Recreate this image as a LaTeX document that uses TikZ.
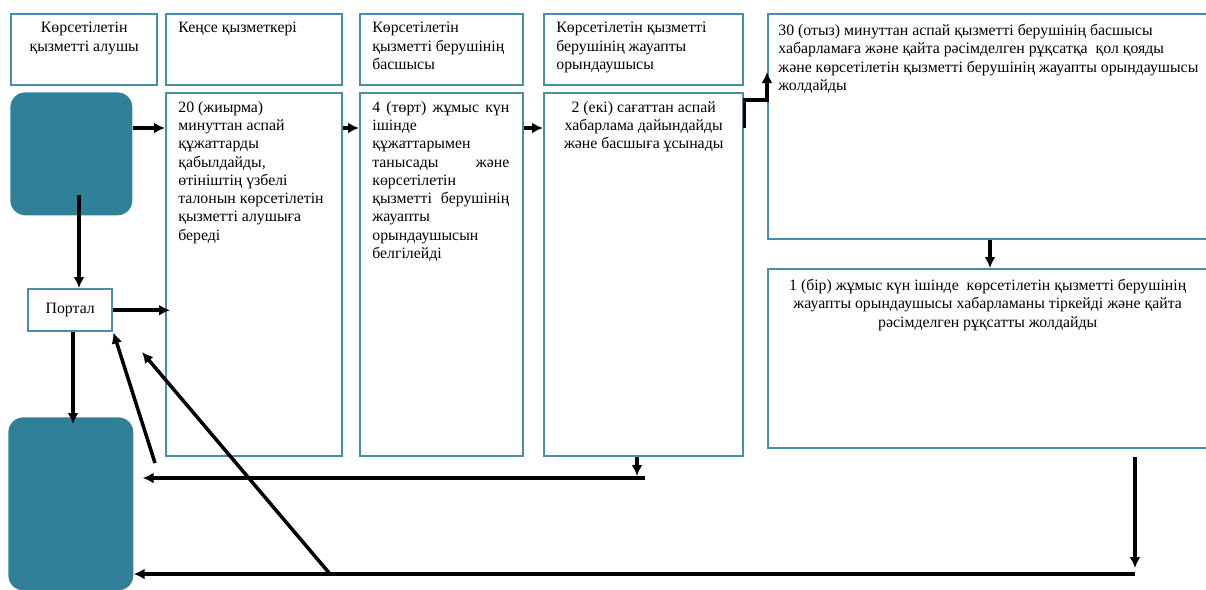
\documentclass[tikz,border=0pt]{standalone}
\usepackage{fontspec}
\setmainfont{Liberation Serif}
\usetikzlibrary{arrows.meta}
\definecolor{frame}{RGB}{74,141,166}
\definecolor{clientfill}{RGB}{49,128,153}
\tikzset{
  box/.style={draw=frame, line width=1.4pt, inner sep=0pt, anchor=north west},
  client/.style={fill=clientfill, rounded corners=0.3cm, inner sep=0pt, anchor=north west},
  txt/.style={inner sep=0pt, anchor=north west, align=left},
  arr/.style={->, line width=2pt},
}
\begin{document}
\begin{tikzpicture}[x=0.02cm, y=-0.02cm, >={Latex[length=2.2mm,width=2.2mm]}, font=\fontsize{9}{10.4}\selectfont]
\useasboundingbox (0,0) rectangle (1206,589);
% header row
\foreach \n/\x/\w in {h1/10/2.92, h2/165/3.52, h3/359/3.26, h4/543/3.98}
{
    \node[box, minimum width=\w cm, minimum height=1.42cm] (\n) at (\x,13) {};
}
\node[txt, anchor=north, align=center] (th1) at ([yshift=-0.18cm]h1.north) {Көрсетілетін\\қызметті алушы};
\node[txt] (th2) at ([xshift=0.26cm,yshift=-0.18cm]h2.north west) {Кеңсе қызметкері};
\node[txt] (th3) at ([xshift=0.26cm,yshift=-0.18cm]h3.north west) {Көрсетілетін\\қызметті берушінің\\басшысы};
\node[txt] (th4) at ([xshift=0.26cm,yshift=-0.18cm]h4.north west) {Көрсетілетін қызметті\\берушінің жауапты\\орындаушысы};
% step boxes
\foreach \n/\x/\w in {s2/165/3.52, s3/359/3.26, s4/543/3.98}
{
    \node[box, minimum width=\w cm, minimum height=7.26cm] (\n) at (\x,92) {};
}
\node[box, minimum width=8.9cm, minimum height=4.5cm] (s5) at (767,13) {};
\node[box, minimum width=8.9cm, minimum height=3.58cm] (s6) at (767,268) {};
\node[txt] (ts2) at ([xshift=0.26cm,yshift=-0.18cm]s2.north west)
  {20 (жиырма)\\минуттан аспай\\құжаттарды\\қабылдайды,\\өтініштің үзбелі\\талонын көрсетілетін\\қызметті алушыға\\береді};
\node[txt, text width=2.74cm] (ts3) at ([xshift=0.26cm,yshift=-0.18cm]s3.north west)
  {4\hfill (төрт)\hfill жұмыс\hfill күн\\ішінде\\құжаттарымен\\танысады\hfill және\\көрсетілетін\\қызметті\hfill берушінің\\жауапты\\орындаушысын\\белгілейді};
\node[txt, anchor=north, align=center] (ts4) at ([yshift=-0.18cm]s4.north)
  {2 (екі) сағаттан аспай\\хабарлама дайындайды\\және басшыға ұсынады};
\node[txt] (ts5) at ([xshift=0.22cm,yshift=-0.22cm]s5.north west)
  {30 (отыз) минуттан аспай қызметті берушінің басшысы\\хабарламаға және қайта рәсімделген рұқсатқа\ \ қол қояды\\және көрсетілетін қызметті берушінің жауапты орындаушысы\\жолдайды};
\node[txt, anchor=north, align=center] (ts6) at ([xshift=-0.06cm,yshift=-0.22cm]s6.north)
  {1 (бір) жұмыс күн ішінде\ \ көрсетілетін қызметті берушінің\\жауапты орындаушысы хабарламаны тіркейді және қайта\\рәсімделген рұқсатты жолдайды};
% client and portal
\node[client, minimum width=2.44cm, minimum height=2.46cm] (ct) at (10,92) {};
\node[client, minimum width=2.5cm, minimum height=3.46cm] (cb) at (8,417) {};
\node[box, minimum width=1.68cm, minimum height=0.84cm] (portal) at (27,288) {Портал};
% connectors
\coordinate (lvl) at (0,128);
\draw[arr] (ct.east |- lvl) -- (s2.west |- lvl);
\draw[arr] (s2.east |- lvl) -- (s3.west |- lvl);
\draw[arr] (s3.east |- lvl) -- (s4.west |- lvl);
\draw[arr] (s4.east |- lvl) -- (s4.east |- 0,100) -- (s5.west |- 0,100) -- (s5.west |- 0,72);
\draw[arr] (s5.south -| 990,0) -- (s6.north -| 990,0);
\coordinate (ct0) at (79,195);
\draw[arr] (ct0) -- (portal.north -| ct0);
\draw[arr] (portal.east) -- ([xshift=0.1cm]s2.west |- portal.east);
\draw[arr] (portal.south -| 73,0) -- (73,424);
\coordinate (r1) at (645,478);
\draw[arr] (s4.south -| 637,0) -- (637,476);
\draw[arr] (r1) -- ([xshift=0.18cm]cb.east |- r1);
\coordinate (r2) at (1135,574);
\draw[arr] (1135,457) -- (1135,568);
\draw[arr] (r2) -- (cb.east |- r2);
\coordinate (d1) at (330,574);
\coordinate (d1e) at (142,352);
\draw[arr] (d1) -- (d1e);
\coordinate (d2) at (155,463);
\draw[arr] (d2) -- (portal.south east);
\end{tikzpicture}
\end{document}
